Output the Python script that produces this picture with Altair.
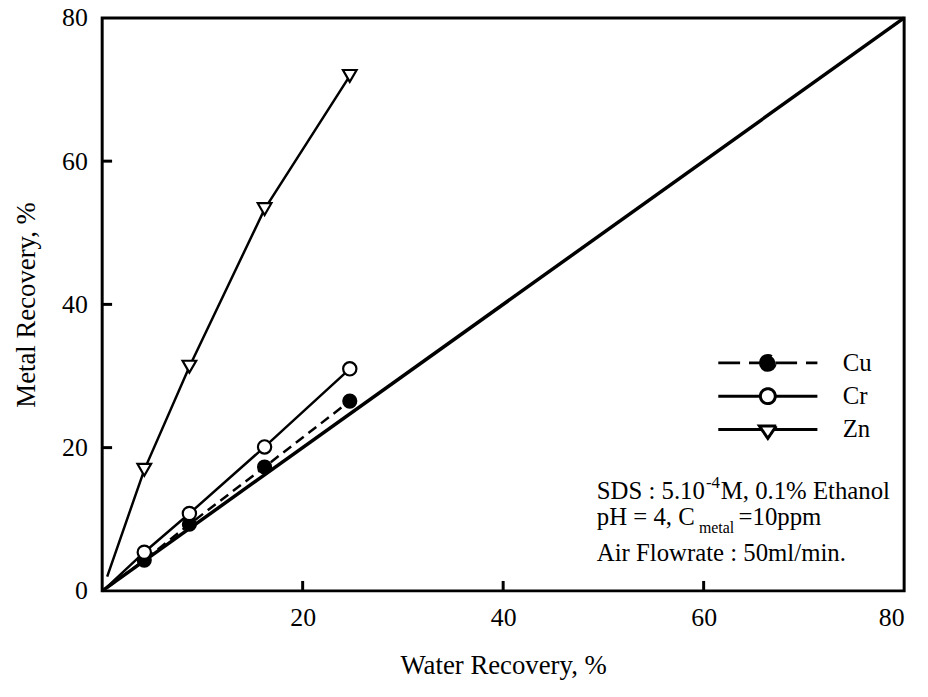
import altair as alt
import pandas as pd

# ---- data ----
metals = ["Cu", "Cr", "Zn"]
water = [4.2, 8.7, 16.2, 24.7]
cu = [4.3, 9.3, 17.3, 26.5]
cr = [5.4, 10.8, 20.1, 31.0]
zn = [16.9, 31.3, 53.3, 71.9]
# where the drawn lines start, near the origin
start_water = [0.5, 0.5, 0.5]
start_metal = [0.45, 0.55, 2.0]
diag_vals = [0, 80]
x_tick_labels = [20, 40, 60, 80]
y_tick_labels = [0, 20, 40, 60, 80]
inner_ticks = [20, 40, 60]
note_line1 = ["SDS : 5.10", "-4", "M, 0.1% Ethanol"]
note_line2 = ["pH = 4, C", "metal", "=10ppm"]
note_line3 = ["Air Flowrate : 50ml/min."]

FONT = "Liberation Serif"
W, H = 809, 578

series = {"Cu": cu, "Cr": cr, "Zn": zn}
pts = pd.DataFrame(
    [{"metal": m, "water": w, "rec": v} for m in metals for w, v in zip(water, series[m])]
)
line_rows = []
for i, m in enumerate(metals):
    line_rows.append({"metal": m, "water": start_water[i], "rec": start_metal[i], "o": 0})
    for j, (w, v) in enumerate(zip(water, series[m])):
        line_rows.append({"metal": m, "water": w, "rec": v, "o": j + 1})
lines = pd.DataFrame(line_rows)
diag = pd.DataFrame({"water": diag_vals, "rec": diag_vals})
xt = pd.DataFrame({"water": inner_ticks})
yt = pd.DataFrame({"rec": inner_ticks})

X = alt.X(
    "water:Q",
    scale=alt.Scale(domain=[0, 80], nice=False, zero=False),
    axis=alt.Axis(values=x_tick_labels, title="Water Recovery, %", labelPadding=14,
                  titleY=75, titleBaseline="middle",
                  labelFont=FONT, titleFont=FONT),
)
Y = alt.Y(
    "rec:Q",
    scale=alt.Scale(domain=[0, 80], nice=False, zero=False),
    axis=alt.Axis(values=y_tick_labels, title="Metal Recovery, %", labelPadding=15,
                  titleX=-76, titleBaseline="middle",
                  labelFont=FONT, titleFont=FONT),
)

diag_layer = alt.Chart(diag).mark_line(color="black", strokeWidth=3.5).encode(x=X, y=Y)

line_layers = []
for m in metals:
    kw = dict(color="black", strokeWidth=2.5)
    if m == "Cu":
        kw["strokeDash"] = [10, 6]
    line_layers.append(
        alt.Chart(lines).transform_filter(alt.datum.metal == m)
        .mark_line(**kw).encode(x=X, y=Y, order="o:Q")
    )

cu_pts = alt.Chart(pts).transform_filter(alt.datum.metal == "Cu").mark_point(
    shape="circle", filled=True, fill="black", stroke="black", strokeWidth=1.5, size=190, opacity=1
).encode(x=X, y=Y)
cr_pts = alt.Chart(pts).transform_filter(alt.datum.metal == "Cr").mark_point(
    shape="circle", filled=False, fill="white", fillOpacity=1, stroke="black", strokeWidth=2.2, size=180, opacity=1
).encode(x=X, y=Y)
zn_pts = alt.Chart(pts).transform_filter(alt.datum.metal == "Zn").mark_point(
    shape="triangle-down", filled=False, fill="white", fillOpacity=1, stroke="black", strokeWidth=2.2, size=190, opacity=1
).encode(x=X, y=Y)

xtick_layer = alt.Chart(xt).mark_rule(color="black", strokeWidth=3).encode(
    x=X, y=alt.value(H), y2=alt.value(H - 10)
)
ytick_layer = alt.Chart(yt).mark_rule(color="black", strokeWidth=3).encode(
    y=Y, x=alt.value(0), x2=alt.value(10)
)

# legend (a real legend, built from the metal scale)
circle_path = "M-1,0H-0.15M0.15,0H1M-0.15,0A0.15,0.15 0 1,0 0.15,0A0.15,0.15 0 1,0 -0.15,0Z"
tri_path = "M-1,0H-0.12M0.12,0H1M-0.17,-0.07L0.17,-0.07L0,0.18Z"
leg_df = pd.DataFrame({"metal": metals})
legend_layer = alt.Chart(leg_df).transform_filter("datum.metal == 'none'").mark_point(
    strokeWidth=3, opacity=1
).encode(
    shape=alt.Shape(
        "metal:N",
        scale=alt.Scale(domain=metals, range=[circle_path, circle_path, tri_path]),
        legend=alt.Legend(
            title=None, orient="none", legendX=620, legendY=333, padding=0,
            symbolSize=10000, symbolStrokeWidth=3, symbolStrokeColor="black",
            clipHeight=30, rowPadding=3.6, labelFont=FONT, labelFontSize=25,
            labelColor="black", labelOffset=24, symbolOpacity=1,
        ),
    ),
    fill=alt.Fill("metal:N", scale=alt.Scale(domain=metals, range=["black", "white", "white"])),
    stroke=alt.Stroke("metal:N", scale=alt.Scale(domain=metals, range=["black", "black", "black"])),
    strokeDash=alt.StrokeDash("metal:N", scale=alt.Scale(domain=metals, range=[[22, 9], [1, 0], [1, 0]])),
)

one = pd.DataFrame({"k": [0]})


def txt(s, x, y, size=25):
    return alt.Chart(one).mark_text(
        text=s, align="left", baseline="alphabetic", font=FONT, fontSize=size, color="black"
    ).encode(x=alt.value(x), y=alt.value(y))


notes = [
    txt(note_line1[0], 499, 485),
    txt(note_line1[1], 609, 474, 17),
    txt(note_line1[2], 624, 485),
    txt(note_line2[0], 499, 512),
    txt(note_line2[1], 602, 520, 16),
    txt(note_line2[2], 642, 512),
    txt(note_line3[0], 499, 548),
]

chart = alt.layer(
    diag_layer, *line_layers, cu_pts, cr_pts, zn_pts, xtick_layer, ytick_layer, legend_layer, *notes
).properties(
    width=W, height=H,
    autosize=alt.AutoSizeParams(type="none"),
    padding={"left": 95, "top": 7, "right": 16, "bottom": 96},
).configure(
    font=FONT
).configure_view(
    stroke="black", strokeWidth=3
).configure_axis(
    labelFont=FONT, labelFontSize=26, labelColor="black",
    titleFont=FONT, titleFontSize=27, titleFontWeight="normal", titleColor="black",
    domain=False, ticks=False, tickSize=0, grid=False,
).configure_legend(
    labelFont=FONT
)

chart.save("out.html", embed_options={"renderer": "svg", "actions": False})
